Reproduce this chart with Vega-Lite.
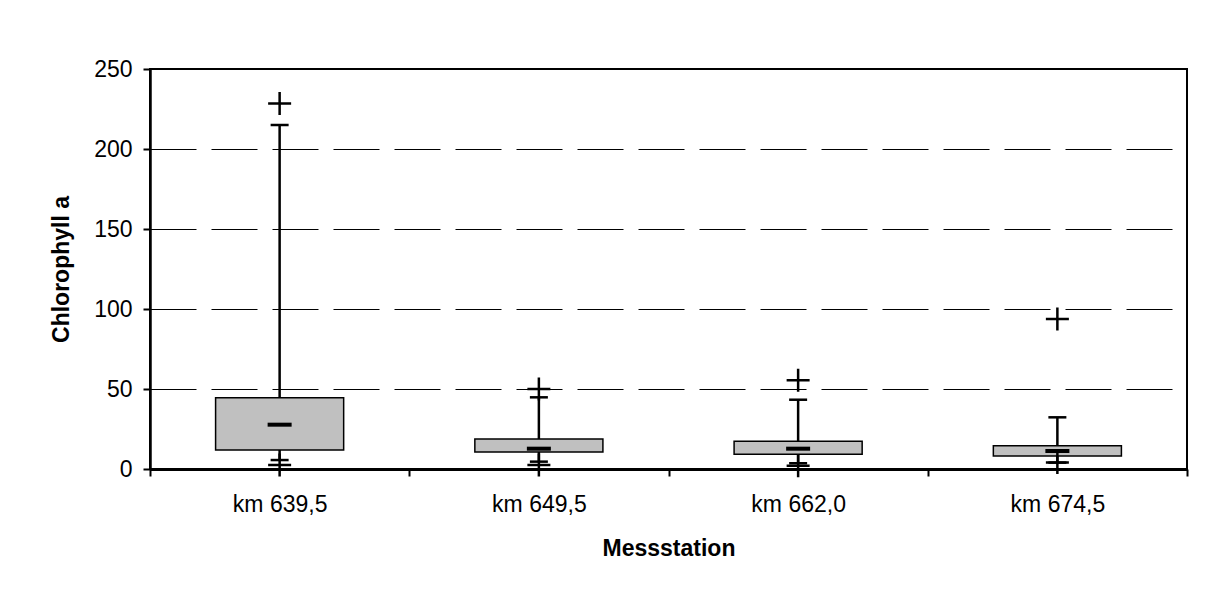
{
  "$schema": "https://vega.github.io/schema/vega-lite/v6.json",
  "width": 1037,
  "height": 400,
  "autosize": {"type": "none"},
  "padding": {"left": 150, "top": 69, "right": 19, "bottom": 134},
  "background": "white",
  "config": {
    "font": "Liberation Sans",
    "view": {"stroke": "black", "strokeWidth": 2},
    "axis": {
      "labelFont": "Liberation Sans",
      "titleFont": "Liberation Sans",
      "labelColor": "black",
      "titleColor": "black",
      "tickColor": "black",
      "domainColor": "black",
      "labelFontSize": 23,
      "titleFontSize": 23,
      "titleFontWeight": "bold",
      "tickSize": 7,
      "tickWidth": 2
    }
  },
  "data": {
    "values": [
      {"station": "km 639,5", "min": 2.5, "low": 5.6, "q1": 11.9, "median": 27.7, "q3": 44.6, "high": 215, "max": 228.5},
      {"station": "km 649,5", "min": 2.5, "low": 4.6, "q1": 10.6, "median": 12.7, "q3": 18.75, "high": 44.8, "max": 50.0},
      {"station": "km 662,0", "min": 2.1, "low": 3.6, "q1": 9.2, "median": 12.7, "q3": 17.3, "high": 43.3, "max": 55.4},
      {"station": "km 674,5", "min": 4.0, "low": 4.0, "q1": 8.1, "median": 11.25, "q3": 14.6, "high": 32.3, "max": 93.75}
    ]
  },
  "encoding": {
    "x": {
      "field": "station",
      "type": "nominal",
      "sort": null,
      "scale": {"paddingInner": 0, "paddingOuter": 0},
      "axis": {
        "title": "Messstation",
        "labelAngle": 0,
        "tickBand": "extent",
        "domainWidth": 3,
        "labelPadding": 17,
        "titlePadding": 21,
        "grid": false
      }
    }
  },
  "layer": [
    {
      "mark": {"type": "rule", "color": "black", "strokeWidth": 2.5},
      "encoding": {
        "y": {
          "field": "low",
          "type": "quantitative",
          "scale": {"domain": [0, 250], "nice": false},
          "axis": {
            "title": "Chlorophyll a",
            "values": [0, 50, 100, 150, 200, 250],
            "grid": true,
            "gridColor": "black",
            "gridWidth": 1,
            "gridDash": [46, 15],
            "domainWidth": 2.5,
            "labelPadding": 11,
            "titlePadding": 20
          }
        },
        "y2": {"field": "high"}
      }
    },
    {
      "mark": {"type": "bar", "width": {"band": 0.494}, "fill": "#c0c0c0", "stroke": "black", "strokeWidth": 1.5},
      "encoding": {
        "y": {"field": "q1", "type": "quantitative"},
        "y2": {"field": "q3"}
      }
    },
    {
      "mark": {"type": "tick", "color": "black", "size": 24, "thickness": 4, "opacity": 1},
      "encoding": {"y": {"field": "median", "type": "quantitative"}}
    },
    {
      "mark": {"type": "tick", "color": "black", "size": 18, "thickness": 2.5, "opacity": 1},
      "encoding": {"y": {"field": "low", "type": "quantitative"}}
    },
    {
      "mark": {"type": "tick", "color": "black", "size": 18, "thickness": 2.5, "opacity": 1},
      "encoding": {"y": {"field": "high", "type": "quantitative"}}
    },
    {
      "mark": {"type": "point", "shape": "M-1,0L1,0M0,-1L0,1", "size": 529, "filled": false, "stroke": "black", "strokeWidth": 2.5, "opacity": 1},
      "encoding": {"y": {"field": "max", "type": "quantitative"}}
    },
    {
      "mark": {"type": "point", "shape": "M-1,0L1,0M0,-1L0,1", "size": 529, "filled": false, "stroke": "black", "strokeWidth": 2.5, "opacity": 1},
      "encoding": {"y": {"field": "min", "type": "quantitative"}}
    }
  ]
}
